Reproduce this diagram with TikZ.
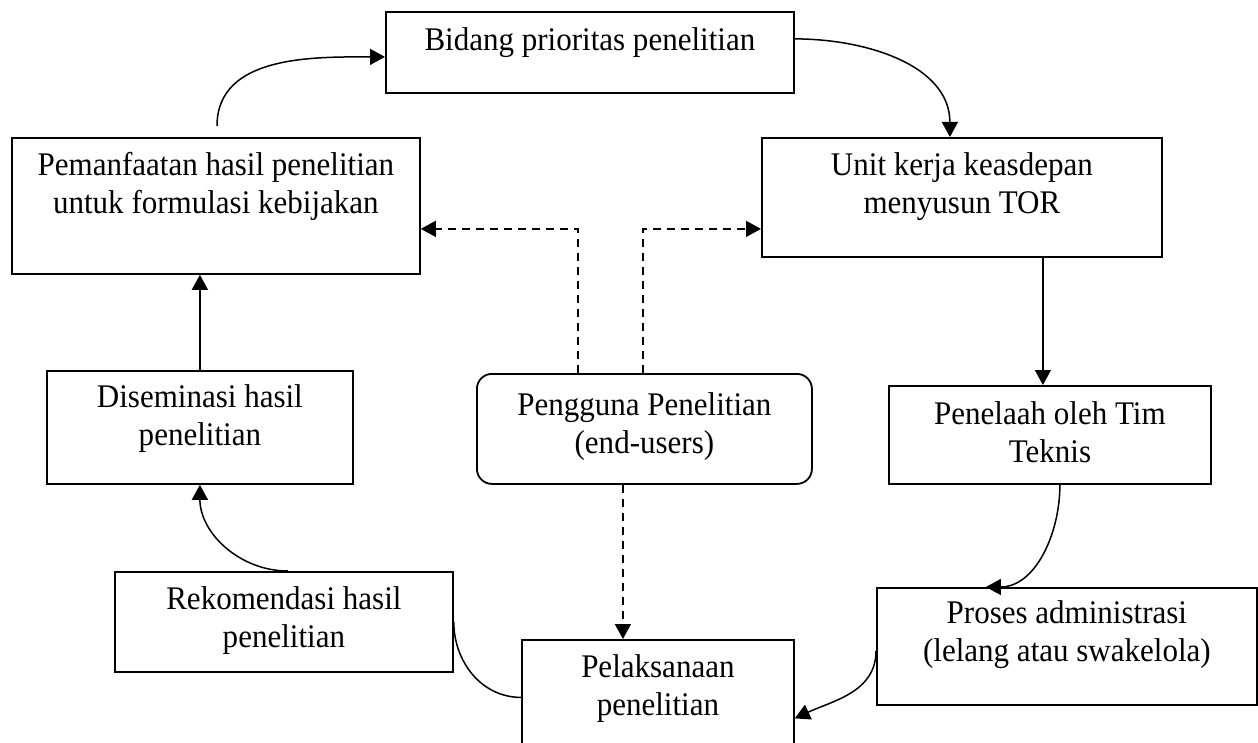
\documentclass[tikz,border=0pt]{standalone}
\usepackage{fontspec}
\setmainfont{Liberation Serif}[FakeStretch=0.94]
\usetikzlibrary{arrows.meta}
\newcommand{\bxt}[4]{\parbox[c][#2][t]{#1}{\centering\rule{0pt}{#3}#4}}
\tikzset{
  box/.style={draw, line width=1.8pt, inner sep=0pt, rectangle, anchor=north west},
  rbox/.style={box, rounded corners=15pt},
  conn/.style={line width=1.5pt, -{Triangle[length=15pt,width=16pt]}},
  plainline/.style={line width=1.5pt},
  dconn/.style={conn, dash pattern=on 8pt off 6pt},
}
\begin{document}
\begin{tikzpicture}[x=1pt,y=-1pt,font=\fontsize{33pt}{37.5pt}\selectfont]
\useasboundingbox (0,0) rectangle (1258,743);
\clip (0,0) rectangle (1258,743);
\node[box] (bid) at (385,11) {\bxt{408pt}{81pt}{39pt}{Bidang prioritas penelitian}};
\node[box] (pem) at (11,137) {\bxt{408pt}{136pt}{38pt}{Pemanfaatan hasil penelitian\\untuk formulasi kebijakan}};
\node[box] (unit) at (761,137) {\bxt{400pt}{119pt}{38pt}{Unit kerja keasdepan\\menyusun TOR}};
\node[box] (dis) at (46,370) {\bxt{306pt}{113pt}{37pt}{Diseminasi hasil\\penelitian}};
\node[rbox] (pen) at (476,373) {\bxt{335pt}{110pt}{42pt}{Pengguna Penelitian\\(end-users)}};
\node[box] (tel) at (888,385) {\bxt{322pt}{98pt}{39pt}{Penelaah oleh Tim\\Teknis}};
\node[box] (rek) at (114,571) {\bxt{338pt}{100pt}{38pt}{Rekomendasi hasil\\penelitian}};
\node[box] (pel) at (521,639) {\bxt{272pt}{115pt}{38pt}{Pelaksanaan\\penelitian}};
\node[box] (pro) at (876,587) {\bxt{380pt}{117pt}{36pt}{Proses administrasi\\(lelang atau swakelola)}};
\coordinate (c1) at (217,126);
\draw[conn] (c1) to[out=90,in=180] ([yshift=-4.5pt]bid.west);
\draw[conn] ([yshift=13.5pt]bid.east) to[out=0,in=90] ([xshift=-12pt]unit.north);
\draw[conn] ([xshift=81pt]unit.south) -- ([xshift=-7pt]tel.north);
\draw[conn] ([xshift=10pt]tel.south) to[out=-90,in=0] ([xshift=-81pt]pro.north);
\draw[conn] ([yshift=-4.5pt]pro.west) to[out=-90,in=25] ([yshift=-21pt]pel.east);
\draw[plainline] (rek.east) to[out=-90,in=180] (pel.west);
\draw[conn] ([xshift=4pt]rek.north) to[out=180,in=-90] (dis.south);
\draw[conn] (dis.north) -- (dis.north |- pem.south);
\draw[dconn] ([xshift=-66.5pt]pen.north) |- ([yshift=-23pt]pem.east);
\draw[dconn] ([xshift=-1.5pt]pen.north) |- ([yshift=-31.5pt]unit.west);
\draw[dconn] ([xshift=-21.5pt]pen.south) -- ([xshift=-21.5pt]pen.south |- pel.north);
\end{tikzpicture}
\end{document}
